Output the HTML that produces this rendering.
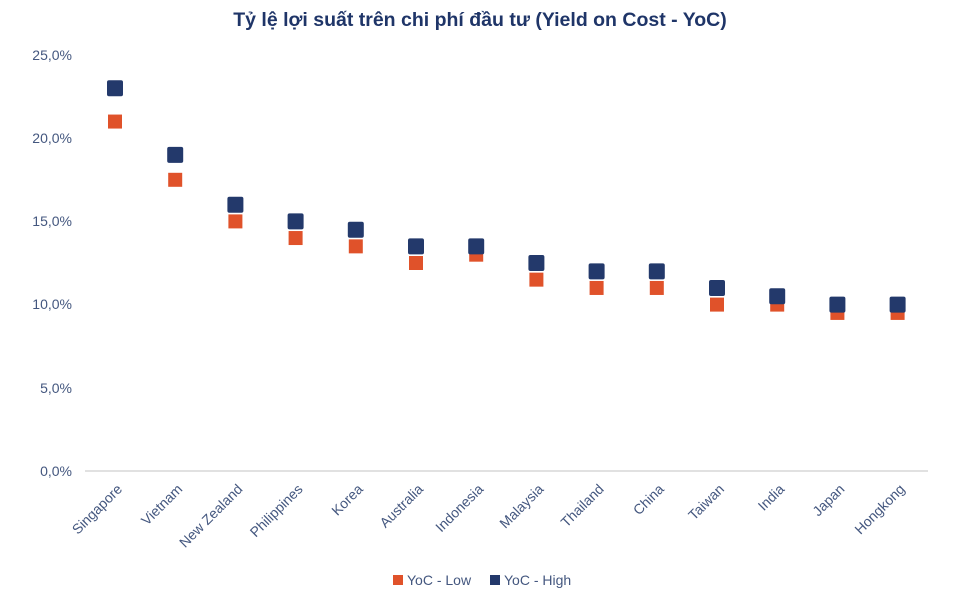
<!DOCTYPE html>
<html><head><meta charset="utf-8"><style>
body{margin:0;background:#fff;width:961px;height:591px;overflow:hidden;font-family:"Liberation Sans",sans-serif}
</style></head><body>
<svg width="961" height="591" xmlns="http://www.w3.org/2000/svg" font-family="Liberation Sans, sans-serif">
<text x="480" y="26" text-anchor="middle" font-size="19.5" font-weight="bold" fill="#1f3568">Tỷ lệ lợi suất trên chi phí đầu tư (Yield on Cost - YoC)</text>
<g font-size="14" fill="#44577f" text-anchor="end">
<text x="72" y="60">25,0%</text><text x="72" y="143">20,0%</text><text x="72" y="226">15,0%</text>
<text x="72" y="309">10,0%</text><text x="72" y="393">5,0%</text><text x="72" y="476">0,0%</text>
</g>
<line x1="85" y1="471" x2="928" y2="471" stroke="#cfcfcf" stroke-width="1.2"/>
<g id="pts"></g>
<g id="lbl" font-size="14" fill="#44577f" text-anchor="end"></g>
<rect x="393" y="575" width="10" height="10" fill="#e0522a"/>
<text x="407" y="585" font-size="14" fill="#44577f">YoC - Low</text>
<rect x="490" y="575" width="10" height="10" fill="#23396b"/>
<text x="504" y="585" font-size="14" fill="#44577f">YoC - High</text>
</svg>
<script>
var names=["Singapore","Vietnam","New Zealand","Philippines","Korea","Australia","Indonesia","Malaysia","Thailand","China","Taiwan","India","Japan","Hongkong"];
var lo=[21,17.5,15,14,13.5,12.5,13,11.5,11,11,10,10,9.5,9.5];
var hi=[23,19,16,15,14.5,13.5,13.5,12.5,12,12,11,10.5,10,10];
var ns="http://www.w3.org/2000/svg",p=document.getElementById("pts"),l=document.getElementById("lbl");
function y(v){return 471-v*16.64;}
for(var i=0;i<14;i++){var x=115+i*60.2;
var r=document.createElementNS(ns,"rect");r.setAttribute("x",x-7);r.setAttribute("y",y(lo[i])-7);r.setAttribute("width",14);r.setAttribute("height",14);r.setAttribute("fill","#e0522a");p.appendChild(r);
r=document.createElementNS(ns,"rect");r.setAttribute("x",x-8);r.setAttribute("y",y(hi[i])-8);r.setAttribute("width",16);r.setAttribute("height",16);r.setAttribute("rx",2);r.setAttribute("fill","#23396b");p.appendChild(r);
var t=document.createElementNS(ns,"text");t.setAttribute("transform","translate("+(x+8)+",490) rotate(-45)");t.textContent=names[i];l.appendChild(t);}
</script>
</body></html>
